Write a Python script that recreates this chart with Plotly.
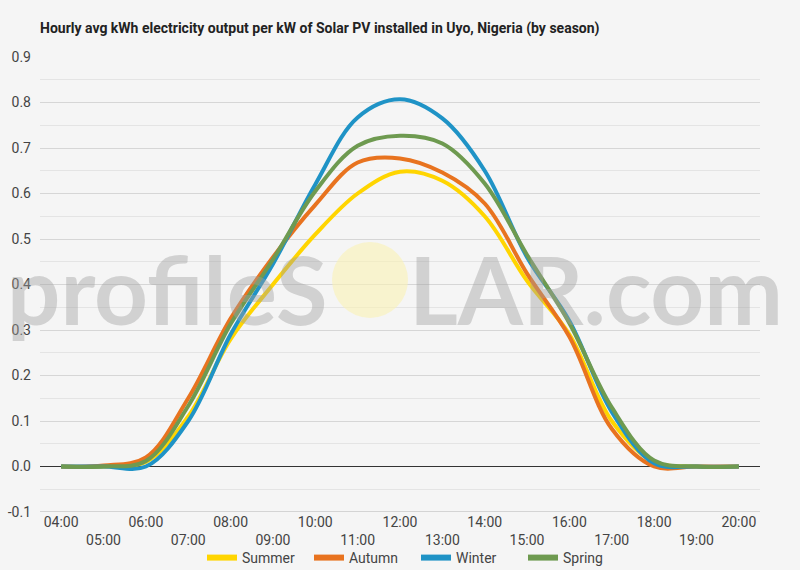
import plotly.graph_objects as go

hours = ["04:00", "05:00", "06:00", "07:00", "08:00", "09:00", "10:00", "11:00",
         "12:00", "13:00", "14:00", "15:00", "16:00", "17:00", "18:00", "19:00", "20:00"]

summer = [0.0, 0.0, 0.01, 0.11, 0.28, 0.40, 0.51, 0.60, 0.648, 0.628, 0.55, 0.408, 0.29, 0.10, 0.01, 0.0, 0.0]
autumn = [0.0, 0.002, 0.02, 0.15, 0.325, 0.46, 0.575, 0.668, 0.677, 0.646, 0.578, 0.424, 0.285, 0.083, 0.0, 0.0, 0.0]
winter = [0.0, 0.0, 0.0, 0.10, 0.29, 0.445, 0.62, 0.767, 0.807, 0.765, 0.65, 0.46, 0.32, 0.12, 0.007, 0.0, 0.0]
spring = [0.0, 0.0, 0.012, 0.133, 0.313, 0.455, 0.605, 0.705, 0.727, 0.71, 0.622, 0.465, 0.315, 0.13, 0.013, 0.0, 0.0]

series = [
    ("Summer", summer, "#FFD500"),
    ("Autumn", autumn, "#E8731F"),
    ("Winter", winter, "#1F93C6"),
    ("Spring", spring, "#6E9A50"),
]

y_ticks = [-0.1, 0.0, 0.1, 0.2, 0.3, 0.4, 0.5, 0.6, 0.7, 0.8, 0.9]
y_ticktext = ["-0.1", "0.0", "0.1", "0.2", "0.3", "0.4", "0.5", "0.6", "0.7", "0.8", "0.9"]

FONT = "Roboto, 'Liberation Sans', sans-serif"
W, H = 800, 570
L, R, T, B = 40, 40, 57, 58

fig = go.Figure()
xs = list(range(len(hours)))
for name, vals, col in series:
    fig.add_trace(go.Scatter(
        x=xs, y=vals, name=name, mode="lines", legendgroup=name, showlegend=False,
        line=dict(color=col, width=4, shape="spline", smoothing=1.0),
    ))
# legend entries with thicker swatches
for name, vals, col in series:
    fig.add_trace(go.Scatter(
        x=[None], y=[None], name=name, mode="lines", legendgroup=name,
        line=dict(color=col, width=6),
    ))

# stagger tick labels into two rows
ticktext = [h if i % 2 == 0 else "<br>" + h for i, h in enumerate(hours)]

def px_x(px):
    return (px - L) / (W - L - R)

def px_y(py):
    return (H - B - py) / (H - T - B)

fig.update_layout(
    width=W, height=H,
    margin=dict(l=L, r=R, t=T, b=B, pad=0, autoexpand=False),
    paper_bgcolor="#f5f5f5", plot_bgcolor="#f5f5f5",
    font=dict(family=FONT, size=14, color="#444444"),
    title=dict(
        text="<b>Hourly avg kWh electricity output per kW of Solar PV installed in Uyo, Nigeria (by season)</b>",
        x=40 / W, xref="container", xanchor="left",
        y=1 - 28 / H, yref="container", yanchor="middle",
        font=dict(family=FONT, size=14, color="#222222"),
    ),
    xaxis=dict(
        range=[-0.5, len(hours) - 0.5],
        tickmode="array", tickvals=xs, ticktext=ticktext,
        showgrid=False, zeroline=False, showline=False,
        ticks="", tickfont=dict(size=14, color="#444444"),
        automargin=False, fixedrange=True,
    ),
    yaxis=dict(
        range=[-0.1, 0.9],
        tickmode="array", tickvals=y_ticks, ticktext=y_ticktext,
        showgrid=True, gridcolor="#d6d6d6", gridwidth=1,
        minor=dict(dtick=0.05, tick0=0, showgrid=True, gridcolor="#e4e4e4", gridwidth=1),
        zeroline=True, zerolinecolor="#333333", zerolinewidth=1,
        showline=False, ticks="", ticklabelstandoff=8,
        tickfont=dict(size=14, color="#444444"),
        automargin=False, fixedrange=True,
    ),
    legend=dict(
        orientation="h", x=202 / W, xanchor="left", xref="container",
        y=1 - 558 / H, yanchor="middle", yref="container",
        font=dict(size=14, color="#444444"), bgcolor="rgba(0,0,0,0)",
        itemwidth=30, tracegroupgap=0, entrywidth=62, entrywidthmode="pixels",
    ),
    showlegend=True,
)

# bottom axis line at -0.1
fig.add_shape(type="line", xref="paper", yref="y", x0=0, x1=1, y0=-0.1, y1=-0.1,
              line=dict(color="#c8c8c8", width=1.5), layer="above")

# watermark
fig.add_shape(type="circle", xref="paper", yref="paper",
              x0=px_x(332), x1=px_x(408), y0=px_y(318), y1=px_y(242),
              fillcolor="rgba(250,242,180,0.6)", line=dict(width=0), layer="above")
WM = dict(family="Lato, Roboto, sans-serif", size=94, color="rgba(160,160,160,0.42)", weight="bold")
fig.add_annotation(text="profileS", xref="paper", yref="paper",
                   x=px_x(330), y=px_y(288), xanchor="right", yanchor="middle",
                   showarrow=False, font=WM)
fig.add_annotation(text="LAR.com", xref="paper", yref="paper",
                   x=px_x(407), y=px_y(288), xanchor="left", yanchor="middle",
                   showarrow=False, font=WM)

fig.write_html("out.html")
